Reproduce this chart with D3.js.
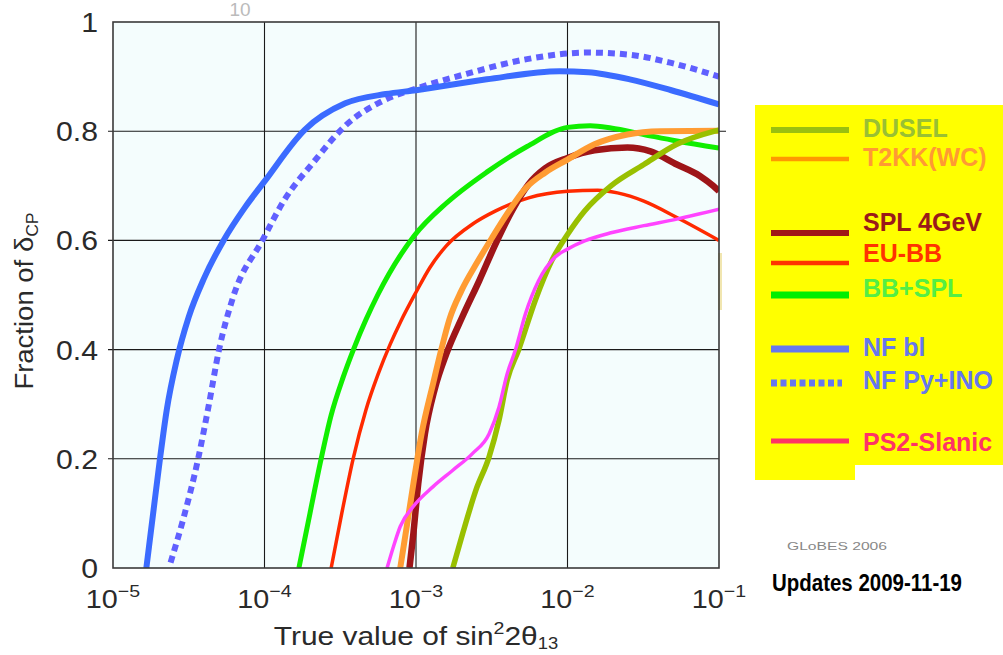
<!DOCTYPE html>
<html>
<head>
<meta charset="utf-8">
<script src="https://cdn.jsdelivr.net/npm/d3@7"></script>
<style>
  body { margin: 0; background: #fff; }
  svg { display: block; font-family: "Liberation Sans", Arial, sans-serif; }
</style>
</head>
<body>
<script>
// data: [log10(sin^2 2theta13), fraction of deltaCP]
const nfBl = [[-4.78,0],[-4.735,0.1],[-4.69,0.2],[-4.645,0.29],[-4.58,0.38],[-4.5,0.46],[-4.4,0.53],
  [-4.27,0.6],[-4.13,0.66],[-4.0,0.708],[-3.733,0.803],[-3.467,0.851],[-3.2,0.868],[-3,0.875],
  [-2.533,0.895],[-2.053,0.91],[-1.863,0.908],[-1.589,0.895],[-1.315,0.875],[-1,0.849]];
const nfPyIno = [[-4.62,0.01],[-4.534,0.092],[-4.438,0.2],[-4.37,0.295],[-4.3,0.4],[-4.205,0.498],
  [-4.014,0.6],[-3.867,0.675],[-3.68,0.742],[-3.467,0.81],[-3.2,0.858],[-3,0.878],[-2.667,0.905],
  [-2.267,0.932],[-1.863,0.944],[-1.589,0.94],[-1.315,0.925],[-1,0.9]];
const bbSpl = [[-3.773,0],[-3.7,0.1],[-3.63,0.195],[-3.56,0.28],[-3.48,0.35],[-3.413,0.4],[-3.33,0.455],
  [-3.253,0.5],[-3.013,0.608],[-2.8,0.668],[-2.533,0.725],[-2.267,0.772],[-2,0.807],[-1.85,0.81],
  [-1.713,0.806],[-1.496,0.794],[-1.278,0.782],[-1,0.769]];
const euBb = [[-3.56,0],[-3.49,0.1],[-3.415,0.2],[-3.33,0.29],[-3.25,0.355],[-3.17,0.41],[-3.1,0.452],
  [-3,0.505],[-2.909,0.55],[-2.8,0.59],[-2.626,0.63],[-2.474,0.654],[-2.257,0.678],[-2,0.69],
  [-1.8,0.692],[-1.67,0.687],[-1.496,0.672],[-1.278,0.642],[-1,0.6]];
const spl4GeV = [[-3.043,0],[-3.017,0.064],[-2.985,0.155],[-2.941,0.246],[-2.876,0.328],[-2.8,0.392],
  [-2.691,0.462],[-2.583,0.526],[-2.474,0.594],[-2.365,0.655],[-2.257,0.703],[-2.148,0.732],[-2,0.751],
  [-1.822,0.765],[-1.604,0.77],[-1.452,0.763],[-1.278,0.739],[-1.126,0.718],[-1.039,0.7],[-1,0.69]];
const t2kk = [[-3.104,0],[-3.061,0.076],[-3.017,0.155],[-2.963,0.246],[-2.887,0.338],[-2.833,0.4],
  [-2.78,0.455],[-2.7,0.508],[-2.6,0.558],[-2.5,0.604],[-2.4,0.648],[-2.278,0.695],[-2.148,0.724],[-2,0.748],
  [-1.822,0.776],[-1.604,0.794],[-1.387,0.8],[-1,0.801]];
const dusel = [[-2.757,0],[-2.691,0.064],[-2.604,0.143],[-2.517,0.204],[-2.452,0.271],[-2.398,0.344],
  [-2.322,0.4],[-2.213,0.49],[-2.104,0.563],[-2,0.611],[-1.887,0.654],[-1.713,0.7],[-1.496,0.739],
  [-1.278,0.776],[-1.028,0.8],[-1,0.802]];
const ps2Slanic = [[-3.191,0],[-3.148,0.04],[-3.104,0.076],[-3.017,0.113],[-2.887,0.149],[-2.757,0.179],
  [-2.626,0.21],[-2.517,0.246],[-2.452,0.295],[-2.398,0.356],[-2.343,0.4],[-2.278,0.465],[-2.191,0.526],
  [-2.083,0.569],[-2,0.584],[-1.887,0.599],[-1.713,0.614],[-1.496,0.627],[-1.278,0.639],[-1.0,0.657]];

const xTickExp = [-5, -4, -3, -2, -1];
const xTickLabels = ["\u22125", "\u22124", "\u22123", "\u22122", "\u22121"];
const yTicks = [0, 0.2, 0.4, 0.6, 0.8, 1];
const yTickLabels = ["0", "0.2", "0.4", "0.6", "0.8", "1"];

const legendNames = ["DUSEL", "T2KK(WC)", "SPL 4GeV", "EU-BB", "BB+SPL", "NF bl", "NF Py+INO", "PS2-Slanic"];

const W = 1003, H = 655;
const svg = d3.select("body").append("svg").attr("width", W).attr("height", H);

const x = d3.scaleLog().domain([1e-5, 1e-1]).range([113, 719]);
const y = d3.scaleLinear().domain([0, 1]).range([568, 22]);
const [x0, x1] = x.range(), [y0, y1] = y.range();

// stretched text helper (the picture's lettering is a bit wider than Arial)
function label(g, tx, ty, sx, anchor, size) {
  return g.append("g").attr("transform", `translate(${tx},${ty}) scale(${sx},1)`)
    .append("text").attr("text-anchor", anchor).attr("font-size", size).attr("fill", "#2a2a2a");
}

// plot background
svg.append("rect").attr("x", x0).attr("y", y1).attr("width", x1 - x0).attr("height", y0 - y1)
  .attr("fill", "#f4fdfd");

// leftover bits at top and right of the original figure
svg.append("text").attr("x", 240).attr("y", 16).attr("text-anchor", "middle")
  .attr("font-size", 19).attr("fill", "#bbb").text("10");
svg.append("rect").attr("x", x1 - 1).attr("y", 253).attr("width", 4).attr("height", 57)
  .attr("fill", "#f1e6b0");

// grid
const grid = svg.append("g").attr("stroke", "#1a1a1a").attr("stroke-width", 1.1);
grid.selectAll("line.v").data(xTickExp.slice(1, -1)).join("line")
  .attr("x1", d => x(Math.pow(10, d))).attr("x2", d => x(Math.pow(10, d)))
  .attr("y1", y1).attr("y2", y0);
grid.selectAll("line.h").data(yTicks.slice(1, -1)).join("line")
  .attr("x1", x0 - 5).attr("x2", d => d === 0.8 ? x1 + 7 : x1)
  .attr("y1", d => y(d)).attr("y2", d => y(d));

// curves
svg.append("clipPath").attr("id", "clip").append("rect")
  .attr("x", x0).attr("y", y1).attr("width", x1 - x0).attr("height", y0 - y1);

const line = d3.line()
  .x(d => x(Math.pow(10, d[0])))
  .y(d => y(d[1]))
  .curve(d3.curveMonotoneX);

const curves = [
  { data: nfPyIno, color: "#6060ff", width: 6, dash: "7,5" },
  { data: nfBl, color: "#3b6bff", width: 6 },
  { data: euBb, color: "#ff2a00", width: 3.5 },
  { data: bbSpl, color: "#11ee00", width: 5 },
  { data: spl4GeV, color: "#9e1518", width: 6.5 },
  { data: t2kk, color: "#ff9c33", width: 6 },
  { data: dusel, color: "#99c000", width: 5.5 },
  { data: ps2Slanic, color: "#ff44ff", width: 3.5 }
];

svg.append("g").attr("clip-path", "url(#clip)")
  .selectAll("path").data(curves).join("path")
  .attr("d", d => line(d.data))
  .attr("fill", "none")
  .attr("stroke", d => d.color)
  .attr("stroke-width", d => d.width)
  .attr("stroke-dasharray", d => d.dash || null)
  .attr("stroke-linejoin", "round");

// frame
svg.append("rect").attr("x", x0).attr("y", y1).attr("width", x1 - x0).attr("height", y0 - y1)
  .attr("fill", "none").attr("stroke", "#3a3a3a").attr("stroke-width", 1.6);

// y tick labels
yTicks.forEach((v, i) => {
  label(svg, 98, y(v) + 10, 1.12, "end", 27).text(yTickLabels[i]);
});

// x tick labels 10^n
xTickExp.forEach((e, i) => {
  const t = label(svg, x(Math.pow(10, e)), 608, 1.15, "middle", 25);
  t.append("tspan").text("10");
  t.append("tspan").attr("font-size", 17).attr("dy", -11).text(xTickLabels[i]);
});

// axis titles
const xt = label(svg, 416, 645, 1.15, "middle", 26);
xt.append("tspan").text("True value of sin");
xt.append("tspan").attr("font-size", 17).attr("dy", -11).text("2");
xt.append("tspan").attr("dy", 11).text("2\u03b8");
xt.append("tspan").attr("font-size", 16).attr("dy", 4).text("13");

const ytg = svg.append("g").attr("transform", "translate(33,301) rotate(-90) scale(1.1,1)");
const yt = ytg.append("text").attr("text-anchor", "middle").attr("font-size", 25).attr("fill", "#2a2a2a");
yt.append("tspan").text("Fraction of \u03b4");
yt.append("tspan").attr("font-size", 16).attr("dy", 5).text("CP");

// legend
const lg = svg.append("g");
lg.append("path")
  .attr("d", "M755,105H1003V465H855V480H755Z")
  .attr("fill", "#ffff00");

const legendLineColor = ["#99c010", "#ff9900", "#a01818", "#ff3300", "#00ee00", "#6677ee", "#6677ee", "#ff3366"];
const legendTextColor = ["#99c033", "#ff9a33", "#9a1a1a", "#ff3300", "#55ee44", "#6677ee", "#6677ee", "#ff3366"];
const legendLineY = [130, 159, 233, 263, 295, 349, 383, 441];
const legendTextY = [137, 166, 231, 262, 297, 356, 389, 451];
const legendLineW = [6, 4.5, 6, 4.5, 7, 7, 7, 5];

legendNames.forEach((name, i) => {
  lg.append("line")
    .attr("x1", 771).attr("x2", i === 6 ? 842 : 849)
    .attr("y1", legendLineY[i]).attr("y2", legendLineY[i])
    .attr("stroke", legendLineColor[i]).attr("stroke-width", legendLineW[i])
    .attr("stroke-dasharray", i === 6 ? "6,3.5" : null);
  lg.append("text")
    .attr("x", 863).attr("y", legendTextY[i])
    .attr("font-size", 25).attr("font-weight", "bold")
    .attr("fill", legendTextColor[i]).text(name);
});

// notes
svg.append("text").attr("x", 787).attr("y", 550)
  .attr("font-size", 11).attr("fill", "#888")
  .attr("textLength", 100).attr("lengthAdjust", "spacingAndGlyphs")
  .text("GLoBES 2006");
svg.append("text").attr("x", 772).attr("y", 591)
  .attr("font-size", 24).attr("font-weight", "bold").attr("fill", "#000")
  .attr("textLength", 190).attr("lengthAdjust", "spacingAndGlyphs")
  .text("Updates 2009-11-19");
</script>
</body>
</html>
